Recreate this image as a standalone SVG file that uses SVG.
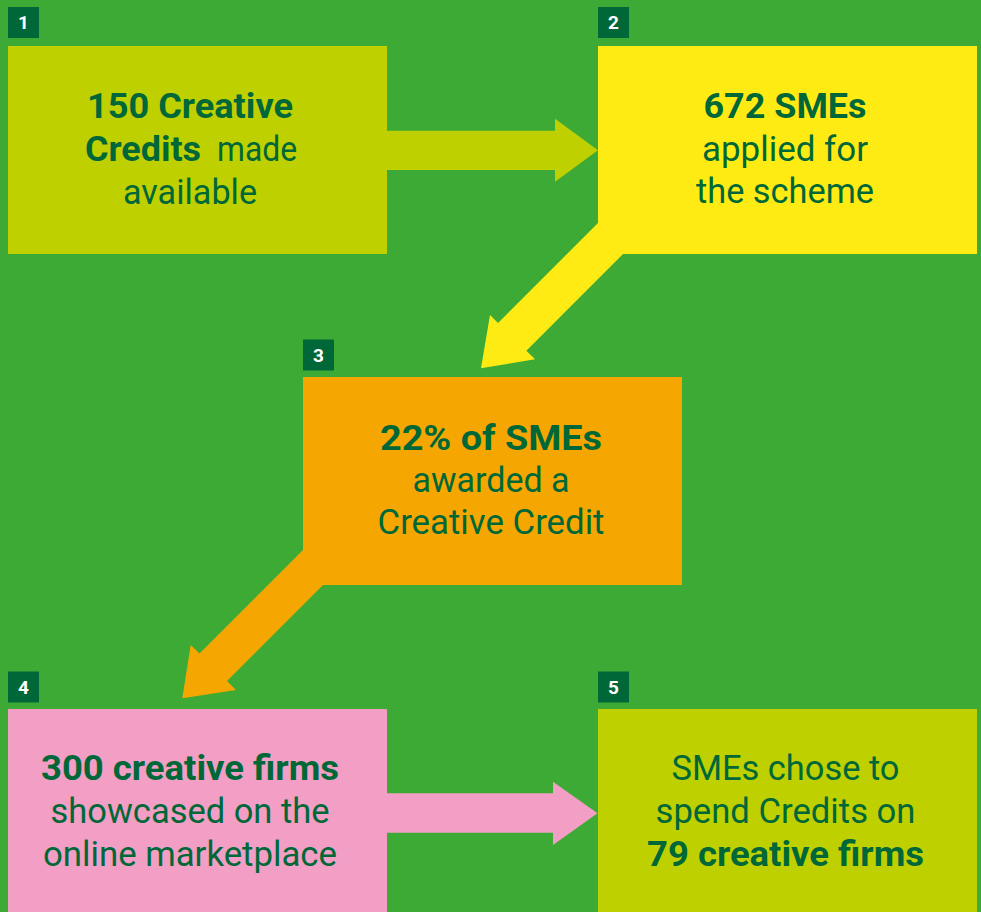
<svg xmlns="http://www.w3.org/2000/svg" width="981" height="912" viewBox="0 0 981 912">
  <style>
    .bg { fill: #3DAA35; }
    .lime { fill: #BFD000; }
    .yellow { fill: #FFEB14; }
    .orange { fill: #F6A600; }
    .pink { fill: #F29EC5; }
    .badge { fill: #006838; }
    .num { fill: #FFFFFF; font-family: Roboto, "Liberation Sans", sans-serif; font-weight: 700; font-size: 19px; text-anchor: middle; }
    .txt { fill: #006838; font-family: Roboto, "Liberation Sans", sans-serif; font-size: 35.5px; text-anchor: middle; }
    .b { font-weight: 700; }
  </style>

  <rect class="bg" x="0" y="0" width="981" height="912"/>

  <!-- block arrows between the steps (drawn beneath the boxes) -->
  <g id="connectors">
    <polygon class="lime" points="380,130.7 555,130.7 555,118.7 598,150.2 555,181.7 555,170 380,170"/>
    <polygon class="yellow" points="615,206 498,323 490,315 481,368.3 535,359.3 526.3,350.7 640,237"/>
    <polygon class="orange" points="320,533 199.5,653.5 190.7,645 182.3,698.3 236,690 227,681 340,568"/>
    <polygon class="pink" points="380,793.3 553,793.3 553,781.7 597.5,813.3 553,845 553,832.7 380,832.7"/>
  </g>

  <g id="step1">
    <rect class="badge" x="8" y="7" width="31" height="31"/>
    <text class="num" x="23.5" y="29">1</text>
    <rect class="lime" x="8" y="46" width="379" height="208"/>
    <text class="txt b" x="190" y="118" textLength="206" lengthAdjust="spacingAndGlyphs">150 Creative</text>
    <text class="txt b" x="143" y="161" textLength="116" lengthAdjust="spacingAndGlyphs">Credits</text>
    <text class="txt" x="257" y="161" textLength="80" lengthAdjust="spacingAndGlyphs">made</text>
    <text class="txt" x="190" y="204" textLength="134" lengthAdjust="spacingAndGlyphs">available</text>
  </g>

  <g id="step2">
    <rect class="badge" x="598" y="7" width="31" height="31"/>
    <text class="num" x="613.5" y="29">2</text>
    <rect class="yellow" x="598" y="46" width="379" height="208"/>
    <text class="txt b" x="785" y="118" textLength="163" lengthAdjust="spacingAndGlyphs">672 SMEs</text>
    <text class="txt" x="785" y="160.5" textLength="166" lengthAdjust="spacingAndGlyphs">applied for</text>
    <text class="txt" x="785" y="203" textLength="178" lengthAdjust="spacingAndGlyphs">the scheme</text>
  </g>

  <g id="step3">
    <rect class="badge" x="303" y="339.5" width="31" height="31"/>
    <text class="num" x="318.5" y="361.5">3</text>
    <rect class="orange" x="303" y="377" width="379" height="208"/>
    <text class="txt b" x="491" y="450" textLength="222" lengthAdjust="spacingAndGlyphs">22% of SMEs</text>
    <text class="txt" x="491" y="492" textLength="157" lengthAdjust="spacingAndGlyphs">awarded a</text>
    <text class="txt" x="491" y="534" textLength="227" lengthAdjust="spacingAndGlyphs">Creative Credit</text>
  </g>

  <g id="step4">
    <rect class="badge" x="8" y="671.5" width="31" height="31"/>
    <text class="num" x="23.5" y="693.5">4</text>
    <rect class="pink" x="8" y="709" width="379" height="203"/>
    <text class="txt b" x="190" y="780" textLength="298" lengthAdjust="spacingAndGlyphs">300 creative firms</text>
    <text class="txt" x="190" y="823" textLength="279" lengthAdjust="spacingAndGlyphs">showcased on the</text>
    <text class="txt" x="190" y="866" textLength="294" lengthAdjust="spacingAndGlyphs">online marketplace</text>
  </g>

  <g id="step5">
    <rect class="badge" x="598" y="671.5" width="31" height="31"/>
    <text class="num" x="613.5" y="693.5">5</text>
    <rect class="lime" x="598" y="709" width="379" height="203"/>
    <text class="txt" x="785.5" y="780" textLength="228" lengthAdjust="spacingAndGlyphs">SMEs chose to</text>
    <text class="txt" x="785.5" y="823" textLength="260" lengthAdjust="spacingAndGlyphs">spend Credits on</text>
    <text class="txt b" x="785.5" y="866" textLength="277" lengthAdjust="spacingAndGlyphs">79 creative firms</text>
  </g>
</svg>
